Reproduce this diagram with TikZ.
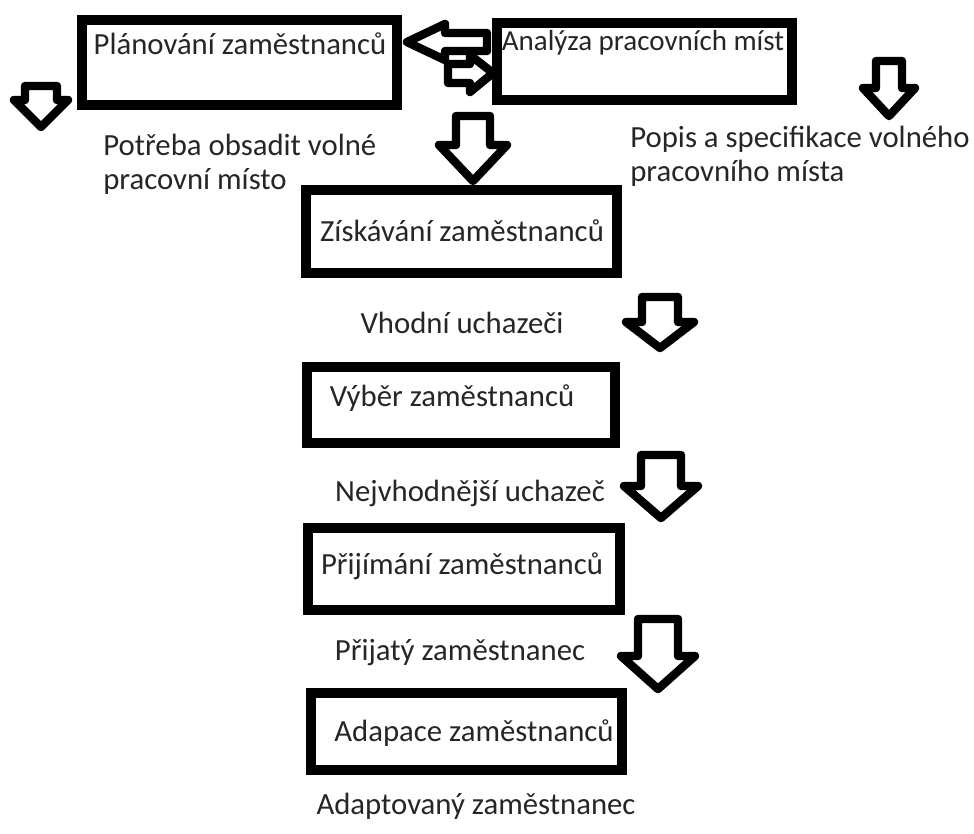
\documentclass[tikz,border=0pt]{standalone}
\usepackage{fontspec}
\setmainfont{Carlito}
\begin{document}
\begin{tikzpicture}[x=0.02cm,y=-0.02cm,
  box/.style={draw=black, line width=5.2pt, fill=white, inner sep=0pt},
  lbl/.style={inner sep=0pt, text=black!85, font=\fontsize{17.5}{19.5}\selectfont},
  txt/.style={inner sep=0pt, text=black!85, align=left, font=\fontsize{17.5}{19.5}\selectfont},
  blockarrow/.style={draw=black, line width=4.8pt, line join=round, fill=white}]
\useasboundingbox (0,0) rectangle (974,833);
\fill[white] (0,0) rectangle (974,833);
\newcommand\blockdown[6]{% cx, top, w, W, base, tip
  \draw[blockarrow] ({#1-#3},#2) -- ({#1+#3},#2) -- ({#1+#3},#5) -- ({#1+#4},#5)
    -- (#1,#6) -- ({#1-#4},#5) -- ({#1-#3},#5) -- cycle;}

% boxes
\node[box, minimum width=6.3cm, minimum height=1.7cm] (b1) at (239.5,62.5) {};
\node[box, minimum width=5.9cm, minimum height=1.54cm] (b2) at (644.5,61.5) {};
\node[box, minimum width=6.22cm, minimum height=1.66cm] (b3) at (461.5,231.5) {};
\node[box, minimum width=6.16cm, minimum height=1.52cm] (b4) at (461,405) {};
\node[box, minimum width=6.24cm, minimum height=1.64cm] (b5) at (464,569) {};
\node[box, minimum width=6.22cm, minimum height=1.54cm] (b6) at (466.5,731.5) {};

% box texts
\node[lbl] (t1) at (240,44) {Plánování zaměstnanců};
\node[lbl, font=\fontsize{16.5}{19}\selectfont] (t2) at (643,43) {Analýza pracovních míst};
\node[lbl] (t3) at (462,231) {Získávání zaměstnanců};
\node[lbl] (t4) at (452,398) {Výběr zaměstnanců};
\node[lbl] (t5) at (462,566) {Přijímání zaměstnanců};
\node[lbl] (t6) at (474,733) {Adapace zaměstnanců};

% free texts
\node[txt, anchor=north west] (p1) at (103,134) {Potřeba obsadit volné\\pracovní místo};
\node[txt, anchor=north west] (p2) at (630,126) {Popis a specifikace volného\\pracovního místa};
\node[lbl] (p3) at (462,323) {Vhodní uchazeči};
\node[lbl] (p4) at (470,493) {Nejvhodnější uchazeč};
\node[lbl] (p5) at (460,653) {Přijatý zaměstnanec};
\node[lbl] (p6) at (476,806) {Adaptovaný zaměstnanec};

% block arrows
\blockdown{41}{86}{16}{27}{100}{127}
\blockdown{473}{116}{17}{34}{145}{181}
\blockdown{889}{61}{13}{26}{88}{116}
\blockdown{660}{297}{18}{34}{322}{348}
\blockdown{661}{455}{20}{37}{486}{518}
\blockdown{658}{619}{20}{37}{656}{689}

% double arrow between b1 and b2
\draw[blockarrow] (407,42) -- (445,24) -- (445,33) -- (487,33) -- (487,51)
  -- (445,51) -- (445,60) -- cycle;
\draw[blockarrow] (448,64) -- (470,64) -- (470,55) -- (493,73) -- (470,92)
  -- (470,83) -- (448,83) -- cycle;
\end{tikzpicture}
\end{document}
